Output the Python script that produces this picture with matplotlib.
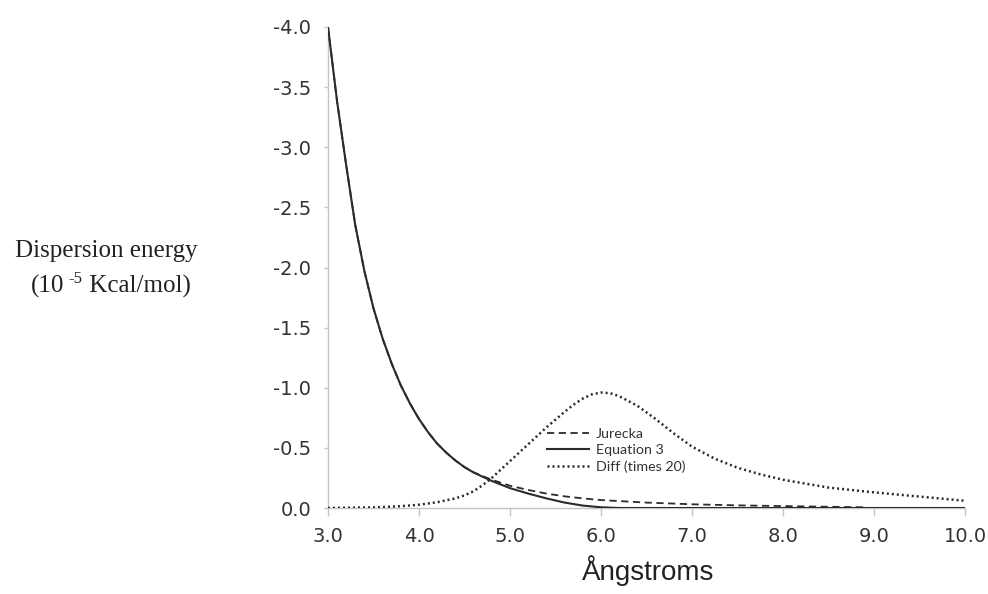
import numpy as np
import matplotlib
matplotlib.use("Agg")
import matplotlib.pyplot as plt

# values (magnitudes, 10^-5 Kcal/mol); plotted as negative energies
eq3_x = [3.0, 3.1, 3.2, 3.3, 3.4, 3.5, 3.6, 3.7, 3.8, 3.9, 4.0, 4.1, 4.2, 4.3, 4.4,
         4.5, 4.6, 4.7, 4.8, 4.9, 5.0, 5.2, 5.4, 5.6, 5.8, 6.0, 6.2, 7.0, 8.0, 9.0, 10.0]
eq3_y = [4.00, 3.38, 2.85, 2.35, 1.97, 1.66, 1.41, 1.20, 1.02, 0.87, 0.74, 0.63, 0.535, 0.46, 0.395,
         0.34, 0.295, 0.26, 0.225, 0.195, 0.165, 0.12, 0.08, 0.045, 0.02, 0.006, 0.0, 0.0, 0.0, 0.0, 0.0]

jur_x = [3.0, 3.1, 3.2, 3.3, 3.4, 3.5, 3.6, 3.7, 3.8, 3.9, 4.0, 4.1, 4.2, 4.3, 4.4,
         4.5, 4.6, 4.7, 4.8, 4.9, 5.0, 5.2, 5.4, 5.6, 5.8, 6.0, 6.5, 7.0, 7.5, 8.0, 8.5, 8.9]
jur_y = [4.00, 3.38, 2.85, 2.35, 1.97, 1.66, 1.41, 1.20, 1.02, 0.87, 0.74, 0.63, 0.535, 0.46, 0.395,
         0.34, 0.297, 0.265, 0.235, 0.21, 0.185, 0.15, 0.12, 0.097, 0.08, 0.066, 0.045, 0.031,
         0.022, 0.016, 0.01, 0.006]

diff_x = [3.0, 3.5, 3.8, 4.0, 4.2, 4.4, 4.5, 4.6, 4.7, 4.8, 4.9, 5.0, 5.1, 5.2, 5.4, 5.6, 5.7,
          5.8, 5.9, 6.0, 6.1, 6.2, 6.4, 6.6, 6.8, 7.0, 7.25, 7.5, 7.75, 8.0, 8.5, 9.0, 9.5, 10.0]
diff_y = [0.0, 0.005, 0.015, 0.027, 0.048, 0.08, 0.105, 0.14, 0.19, 0.25, 0.32, 0.39, 0.46, 0.53,
          0.67, 0.80, 0.86, 0.91, 0.945, 0.96, 0.955, 0.93, 0.85, 0.74, 0.62, 0.51, 0.41, 0.335,
          0.28, 0.235, 0.17, 0.13, 0.095, 0.06]

x_ticks = [3, 4, 5, 6, 7, 8, 9, 10]
y_ticks = [0.0, -0.5, -1.0, -1.5, -2.0, -2.5, -3.0, -3.5, -4.0]

plt.rcParams['axes.unicode_minus'] = False

fig = plt.figure(figsize=(9.88, 5.94), dpi=100)
ax = fig.add_axes([328 / 988, 1 - 508 / 594, 637 / 988, 481 / 594])

line_col = '#2b2b2b'
ax.plot(jur_x, -np.array(jur_y), color=line_col, lw=1.3, ls=(0, (4, 2.5)), label='Jurecka')
ax.plot(eq3_x, -np.array(eq3_y), color=line_col, lw=1.5, ls='-', label='Equation 3')
ax.plot(diff_x, -np.array(diff_y), color=line_col, lw=1.8, ls=(0, (0.8, 1.2)),
        label='Diff (times 20)')

ax.set_xlim(3, 10)
ax.set_ylim(0, -4)
ax.set_xticks(x_ticks)
ax.set_xticklabels(['%.1f' % v for v in x_ticks])
ax.set_yticks(y_ticks)
ax.set_yticklabels(['%.1f' % v for v in y_ticks])

for side in ['top', 'right']:
    ax.spines[side].set_visible(False)
for side in ['left', 'bottom']:
    ax.spines[side].set_color('#c4c4c4')
    ax.spines[side].set_linewidth(1.0)
    ax.spines[side].set_zorder(0)

ax.tick_params(axis='x', direction='out', length=6, width=1, color='#c4c4c4',
               labelsize=14, labelcolor='#333333', pad=8)
ax.tick_params(axis='y', direction='out', length=3, width=1, color='#c4c4c4',
               labelsize=14, labelcolor='#333333', pad=9)

leg = ax.legend(loc='upper left', bbox_to_anchor=(0.344, 0.166), frameon=False,
                prop={'family': ['Lato', 'DejaVu Sans'], 'size': 10.3},
                handlelength=2.9, handletextpad=0.5, labelspacing=0.28,
                borderpad=0, borderaxespad=0)
for t in leg.get_texts():
    t.set_color('#333333')

serif = ['Liberation Serif', 'DejaVu Serif']
fig.text(106 / 988, 1 - 257 / 594, 'Dispersion energy', ha='center', va='baseline',
         family=serif, size=18, color='#222222')

# second line: "(10", raised "-5", "Kcal/mol)" chained one after another
fig.canvas.draw()
r = fig.canvas.get_renderer()
base_y = 1 - 293 / 594
t1 = fig.text(0, base_y, '(10', ha='left', va='baseline', family=serif, size=18, color='#222222')
t2 = fig.text(0, base_y + 10 / 594, '-5', ha='left', va='baseline', family=serif, size=12,
              color='#222222')
t3 = fig.text(0, base_y, ' Kcal/mol)', ha='left', va='baseline', family=serif, size=18,
              color='#222222')
w1 = t1.get_window_extent(r).width
w2 = t2.get_window_extent(r).width
w3 = t3.get_window_extent(r).width
gap = 4
start = 111 - (w1 + gap + w2 + w3) / 2
t1.set_x(start / 988)
t2.set_x((start + w1 + gap) / 988)
t3.set_x((start + w1 + gap + w2) / 988)

fig.text(648 / 988, 1 - 580 / 594, 'Ångstroms', ha='center', va='baseline',
         family=['Liberation Sans', 'DejaVu Sans'], size=20, color='#222222')

fig.savefig('out.png', dpi=100)
